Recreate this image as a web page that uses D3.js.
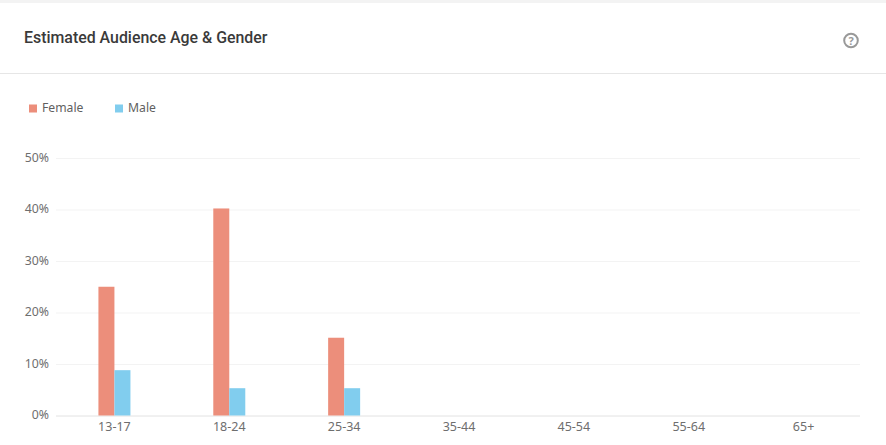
<!DOCTYPE html>
<html><head><meta charset="utf-8">
<script src="https://cdnjs.cloudflare.com/ajax/libs/d3/7.8.5/d3.min.js"></script>
<style>html,body{margin:0;padding:0;background:#fff}svg{display:block}</style>
</head><body><svg id="c" width="886" height="445"></svg>
<script>
const categories=["13-17","18-24","25-34","35-44","45-54","55-64","65+"];
const female=[25,40.2,15.1,0,0,0,0];
const male=[8.8,5.3,5.3,0,0,0,0];
const yTicks=[0,10,20,30,40,50];
const colors={Female:"#ec8e7b",Male:"#81cdee"};
const svg=d3.select("#c");
const body="'Noto Sans',sans-serif";
svg.append("rect").attr("width",886).attr("height",445).attr("fill","#fff");
svg.append("rect").attr("width",886).attr("height",3).attr("fill","#f3f3f3");
svg.append("rect").attr("x",0).attr("y",73).attr("width",886).attr("height",1).attr("fill","#e6e6e6");
svg.append("text").attr("x",24).attr("y",43).attr("font-family","Roboto,sans-serif").attr("font-weight",500)
  .attr("font-size",15.9).attr("fill","#3a3a3a").text("Estimated Audience Age & Gender");
// help icon
const ic=svg.append("g").attr("transform","translate(851,40.5)");
ic.append("circle").attr("r",6.8).attr("fill","none").attr("stroke","#999").attr("stroke-width",2);
ic.append("text").attr("y",4).attr("text-anchor","middle").attr("font-family",body).attr("font-weight",700).attr("font-size",11).attr("fill","#999").text("?");
// legend
[["Female",29,42],["Male",115,128]].forEach(([k,sx,tx])=>{
  svg.append("rect").attr("x",sx).attr("y",104.5).attr("width",8).attr("height",8).attr("fill",colors[k]);
  svg.append("text").attr("x",tx).attr("y",112).attr("font-family",body).attr("font-size",12.2).attr("fill","#5f5f5f").text(k);
});
const x=d3.scaleBand().domain(categories).range([57,861]);
const y=d3.scaleLinear().domain([0,50]).range([415.5,158]);
const gy=svg.append("g").attr("transform","translate(57,0)").call(d3.axisLeft(y).tickValues(yTicks).tickSize(-803).tickFormat(d=>d+"%"));
gy.select(".domain").remove();
gy.selectAll("line").attr("stroke",d=>d===0?"#e2e2e2":"#f3f3f3").attr("x1",-1).attr("x2",803);
gy.selectAll("text").attr("x",-8).attr("dy","0.26em").attr("font-family",body).attr("font-size",12.3).attr("fill","#6e6e6e");
const gx=svg.append("g").attr("transform","translate(0,415.5)").call(d3.axisBottom(x).tickSize(0).tickPadding(7));
gx.select(".domain").remove();
gx.selectAll("text").attr("font-family",body).attr("font-size",12.5).attr("fill","#6e6e6e");
const bw=16;
svg.append("g").selectAll("rect").data(categories).join("rect")
  .attr("x",d=>x(d)+x.bandwidth()/2-bw).attr("width",bw)
  .attr("y",(d,i)=>y(female[i])).attr("height",(d,i)=>y(0)-y(female[i])).attr("fill",colors.Female);
svg.append("g").selectAll("rect").data(categories).join("rect")
  .attr("x",d=>x(d)+x.bandwidth()/2).attr("width",bw)
  .attr("y",(d,i)=>y(male[i])).attr("height",(d,i)=>y(0)-y(male[i])).attr("fill",colors.Male);
</script></body></html>
